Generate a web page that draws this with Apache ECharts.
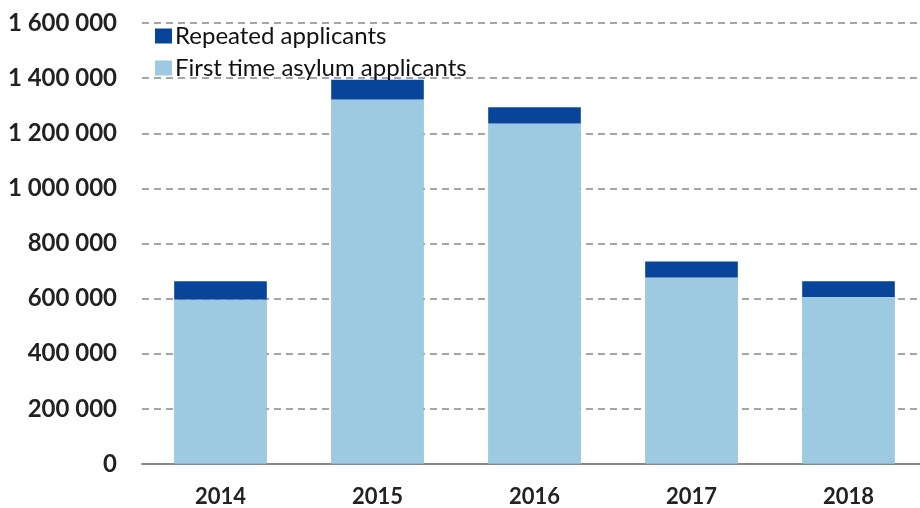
<!DOCTYPE html>
<html>
<head>
<meta charset="utf-8">
<script src="https://cdn.jsdelivr.net/npm/echarts@6/dist/echarts.min.js"></script>
<style>
  html, body { margin: 0; padding: 0; background: #fff; }
  #chart { width: 920px; height: 508px; }
</style>
</head>
<body>
<div id="chart"></div>
<script>
  var years = ['2014', '2015', '2016', '2017', '2018'];
  var firstTime = [597000, 1322000, 1235000, 677000, 606000];
  var repeated = [66000, 72000, 59000, 58000, 57000];

  function spaced(v) {
    return String(v).replace(/\B(?=(\d{3})+(?!\d))/g, ' ');
  }

  var chart = echarts.init(document.getElementById('chart'));
  chart.setOption({
    animation: false,
    textStyle: { fontFamily: 'Lato, "Open Sans", sans-serif' },
    legend: {
      orient: 'vertical',
      left: 150,
      top: 19,
      icon: 'rect',
      itemWidth: 17,
      itemHeight: 15,
      itemGap: 8,
      itemStyle: { borderWidth: 0 },
      data: ['Repeated applicants', 'First time asylum applicants'],
      textStyle: { fontSize: 24, color: '#111', padding: [0, 0, 0, -2] }
    },
    // plot runs slightly past the right edge of the canvas, as in the original
    grid: { left: 142, width: 785, top: 23, bottom: 44, outerBoundsMode: 'none' },
    xAxis: {
      type: 'category',
      data: years,
      axisLine: { lineStyle: { color: '#888', width: 2 } },
      axisTick: { length: 7, lineStyle: { color: '#888', width: 2 } },
      axisLabel: { fontSize: 22, fontWeight: 'bold', color: '#222', margin: 22 }
    },
    yAxis: {
      type: 'value',
      min: 0,
      max: 1600000,
      interval: 200000,
      axisLine: { show: false },
      axisTick: { show: false },
      splitLine: { lineStyle: { color: '#888', type: [7, 5], width: 1.5 } },
      axisLabel: {
        fontSize: 24, fontWeight: 'bold', color: '#222', margin: 25,
        formatter: spaced
      }
    },
    series: [
      {
        name: 'First time asylum applicants',
        type: 'bar',
        stack: 'total',
        barWidth: '59%',
        data: firstTime,
        itemStyle: { color: '#9ecae1', borderColor: '#7fb3d5', borderWidth: 0.5 }
      },
      {
        name: 'Repeated applicants',
        type: 'bar',
        stack: 'total',
        data: repeated,
        itemStyle: { color: '#08449a' }
      }
    ]
  });
</script>
</body>
</html>
